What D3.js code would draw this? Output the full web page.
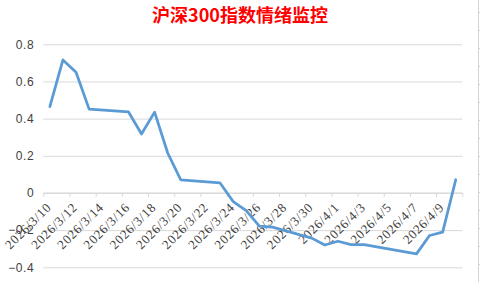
<!DOCTYPE html>
<html>
<head>
<meta charset="utf-8">
<script src="https://cdn.jsdelivr.net/npm/d3@7/dist/d3.min.js"></script>
<style>
  html, body { margin: 0; padding: 0; background: #fff; }
  svg { display: block; }
</style>
</head>
<body>
<svg id="chart" width="480" height="282"></svg>
<script>
// ---- data ----
const title = "沪深300指数情绪监控";
const dates = ["2026-03-10","2026-03-11","2026-03-12","2026-03-13","2026-03-16","2026-03-17","2026-03-18","2026-03-19","2026-03-20","2026-03-23","2026-03-24","2026-03-25","2026-03-26","2026-03-27","2026-03-30","2026-03-31","2026-04-01","2026-04-02","2026-04-03","2026-04-07","2026-04-08","2026-04-09","2026-04-10"];
const values = [0.465,0.716,0.650,0.451,0.437,0.317,0.435,0.215,0.071,0.054,-0.046,-0.095,-0.179,-0.184,-0.243,-0.280,-0.260,-0.278,-0.278,-0.328,-0.229,-0.211,0.071];
const xTickDates = ["2026-03-10","2026-03-12","2026-03-14","2026-03-16","2026-03-18","2026-03-20","2026-03-22","2026-03-24","2026-03-26","2026-03-28","2026-03-30","2026-04-01","2026-04-03","2026-04-05","2026-04-07","2026-04-09","2026-04-11"];
const xTickLabels = ["2026/3/10","2026/3/12","2026/3/14","2026/3/16","2026/3/18","2026/3/20","2026/3/22","2026/3/24","2026/3/26","2026/3/28","2026/3/30","2026/4/1","2026/4/3","2026/4/5","2026/4/7","2026/4/9",""];
const yTicks = [-0.4,-0.2,0,0.2,0.4,0.6,0.8];
const yTickLabels = ["−0.4","−0.2","0","0.2","0.4","0.6","0.8"];

// ---- layout ----
const parse = d3.utcParse("%Y-%m-%d");
const svg = d3.select("#chart");
const plot = {left: 43.3, right: 462.3, top: 44.3, bottom: 267.3};

const x = d3.scaleUtc()
  .domain([parse("2026-03-10"), parse("2026-04-11")])
  .range([plot.left, plot.right]);
const y = d3.scaleLinear().domain([-0.4, 0.8]).range([plot.bottom, plot.top]);

// spreadsheet cell border remnants on right edge
svg.append("line").attr("x1",478.5).attr("x2",478.5).attr("y1",0).attr("y2",282)
  .attr("stroke","#d4d4d4").attr("stroke-width",1);
svg.append("g").selectAll("line").data(d3.range(12.5, 282, 18))
  .join("line").attr("x1",478.5).attr("x2",480).attr("y1",d=>d).attr("y2",d=>d)
  .attr("stroke","#d4d4d4");

// gridlines
const yAxis = d3.axisLeft(y).tickValues(yTicks)
  .tickSize(-(plot.right - plot.left))
  .tickFormat((d,i) => yTickLabels[i]);
const gy = svg.append("g").attr("transform", `translate(${plot.left},0)`).call(yAxis);
gy.select(".domain").remove();
gy.selectAll(".tick line").attr("stroke", "#d9d9d9").attr("stroke-width", 1);
gy.selectAll(".tick text")
  .attr("x", -9)
  .attr("fill", "#404040")
  .style("font-family", "'Liberation Sans', Arial, sans-serif")
  .style("font-size", "12px")
  .style("letter-spacing", "0.6px");

// x axis at y = 0
const xAxis = d3.axisBottom(x)
  .tickValues(xTickDates.map(parse))
  .tickSize(4)
  .tickFormat((d,i) => xTickLabels[i]);
const gx = svg.append("g").attr("transform", `translate(0,${y(0)})`).call(xAxis);
gx.select(".domain").attr("stroke", "#d9d9d9").attr("d", `M${plot.left},0H${plot.right}`);
gx.selectAll(".tick line").attr("stroke", "#d9d9d9");
gx.selectAll(".tick text")
  .attr("y", 0).attr("dy", 0)
  .attr("text-anchor", "end")
  .attr("dominant-baseline", "central")
  .attr("transform", "translate(5,12) rotate(-45)")
  .attr("fill", "#404040")
  .style("font-family", "'Liberation Serif', 'DejaVu Serif', serif")
  .style("font-size", "13px")
  .style("letter-spacing", "0.7px");

// line
const pts = dates.map((d,i) => ({d: d3.utcHour.offset(parse(d), 12), v: values[i]}));
svg.append("path")
  .datum(pts)
  .attr("fill", "none")
  .attr("stroke", "#5b9bd5")
  .attr("stroke-width", 2.75)
  .attr("stroke-linejoin", "round")
  .attr("stroke-linecap", "round")
  .attr("d", d3.line().x(p => x(p.d)).y(p => y(p.v)));

// title
svg.append("text")
  .attr("x", 240).attr("y", 22)
  .attr("text-anchor", "middle")
  .attr("fill", "#ff0000")
  .style("font-family", "'Noto Sans CJK SC', sans-serif")
  .style("font-weight", "bold")
  .style("font-size", "18px")
  .text(title);
</script>
</body>
</html>
